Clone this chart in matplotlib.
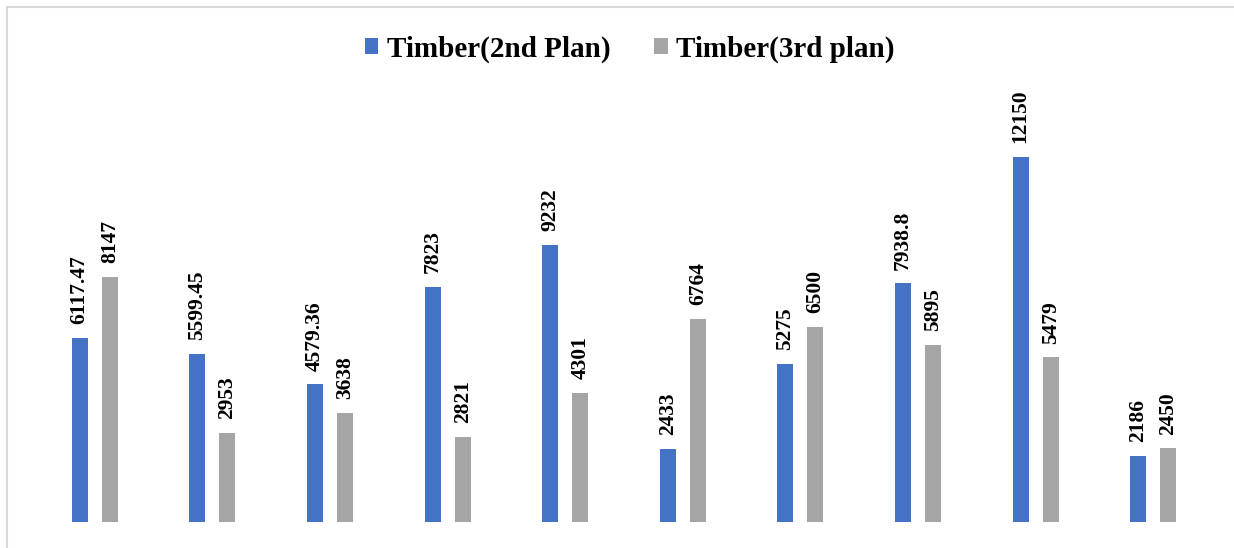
import matplotlib.pyplot as plt
from matplotlib.patches import Rectangle
import numpy as np

plt.rcParams['font.family'] = ['Liberation Serif', 'DejaVu Serif']

plan2 = [6117.47, 5599.45, 4579.36, 7823, 9232, 2433, 5275, 7938.8, 12150, 2186]
plan3 = [8147, 2953, 3638, 2821, 4301, 6764, 6500, 5895, 5479, 2450]
labels2 = ['6117.47', '5599.45', '4579.36', '7823', '9232', '2433', '5275', '7938.8', '12150', '2186']
labels3 = ['8147', '2953', '3638', '2821', '4301', '6764', '6500', '5895', '5479', '2450']

blue = '#4472C4'
grey = '#A5A5A5'

fig = plt.figure(figsize=(12.34, 5.48), dpi=100)
fig.patches.append(Rectangle((7/1234, -0.01), 1.0, 1 - 7/548 + 0.01, transform=fig.transFigure,
                             fill=False, edgecolor='#D9D9D9', linewidth=1.5))
ax = fig.add_axes([36/1234, 26/548, 1176/1234, 420.6/548])

x = np.arange(len(plan2))
w = 0.136
off = 0.128
b1 = ax.bar(x - off, plan2, w, color=blue, label='Timber(2nd Plan)')
b2 = ax.bar(x + off, plan3, w, color=grey, label='Timber(3rd plan)')

for bars, labs in ((b1, labels2), (b2, labels3)):
    for r, t in zip(bars, labs):
        ax.annotate(t, (r.get_x() + r.get_width() / 2, r.get_height()),
                    xytext=(0, 10), textcoords='offset points', rotation=90,
                    ha='center', va='bottom', fontsize=15.5, fontweight='bold')

ax.set_xlim(-0.5, 9.5)
ax.set_ylim(0, 14000)
ax.axis('off')

fig.legend(handles=[b1, b2], loc='center', bbox_to_anchor=(0.5 + 13/1234, 1 - 49/548), ncol=2,
           frameon=False, prop={'size': 21, 'weight': 'bold'},
           handlelength=0.45, handleheight=0.45, handletextpad=0.3, columnspacing=1.5)

fig.savefig('out.png', dpi=100)
